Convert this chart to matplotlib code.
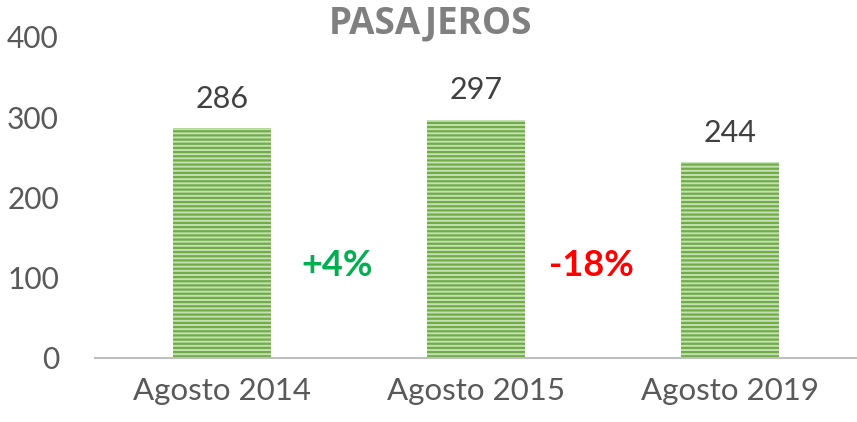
import matplotlib
matplotlib.use("Agg")
import matplotlib.pyplot as plt

categories = ["Agosto 2014", "Agosto 2015", "Agosto 2019"]
values = [286, 297, 244]
changes = ["+4%", "-18%"]
change_colors = ["#00B050", "#FF0000"]
yticks = [0, 100, 200, 300, 400]

plt.rcParams['font.family'] = ['Lato', 'DejaVu Sans']
plt.rcParams['hatch.linewidth'] = 1.6

fig = plt.figure(figsize=(8.57, 4.22), dpi=100)
ax = fig.add_axes([0.1109, 0.1517, 0.8891, 0.7607])

x = list(range(len(categories)))
ax.bar(x, values, width=0.386, color="#C5E0B4", edgecolor="#70AD47",
       linewidth=0, hatch="----")

for xi, v in zip(x, values):
    ax.text(xi, v + 19, str(v), ha="center", va="bottom", fontsize=22, color="#404040")

for i, (txt, c) in enumerate(zip(changes, change_colors)):
    ax.text(i + 0.455, 115, txt, ha="center", va="center", fontsize=26,
            color=c, fontweight="bold")

ax.set_xlim(-0.5, 2.5)
ax.set_ylim(0, 400)
ax.set_yticks(yticks)
ax.set_xticks(x)
ax.set_xticklabels(categories)
ax.tick_params(axis="both", length=0, colors="#595959")
ax.tick_params(axis="x", pad=14, labelsize=22.5)
ax.tick_params(axis="y", pad=26, labelsize=21.5)
for s in ["top", "right", "left"]:
    ax.spines[s].set_visible(False)
ax.spines["bottom"].set_color("#BFBFBF")
ax.spines["bottom"].set_linewidth(1.5)

fig.text(0.502, 0.945, "PASAJEROS", ha="center", va="center", fontsize=26.5,
         fontweight="bold", color="#808080", family=["Open Sans", "DejaVu Sans"])

fig.savefig("out.png", dpi=100)
